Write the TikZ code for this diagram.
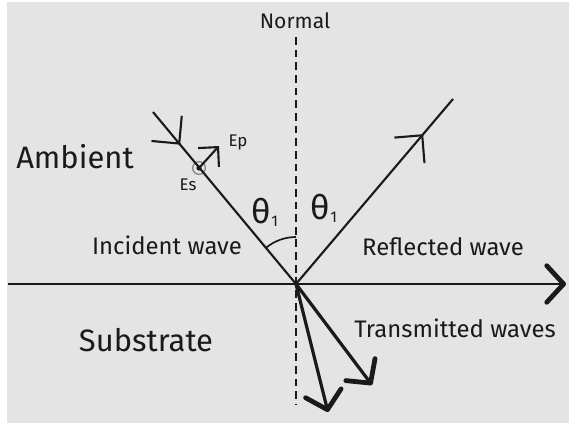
\documentclass[tikz,border=0pt]{standalone}
\usepackage{fontspec}
\setmainfont{Fira Sans}
\usetikzlibrary{arrows.meta,decorations.markings}
\definecolor{bggray}{HTML}{E4E4E4}
\definecolor{ink}{HTML}{1A1A1A}

\begin{document}
\begin{tikzpicture}[
    x=0.025cm, y=0.025cm,
    line width=1.5pt,
    draw=ink,
    every node/.style={inner sep=0pt, text=ink},
    midbarb/.style={postaction={decorate}, decoration={markings,
        mark=at position #1 with {\arrow{Straight Barb[length=14pt,width=28pt]}}}},
    thickbarb/.style={-{Straight Barb[length=12pt,width=26pt,line width=3.4pt,round]}},
    bigtext/.style={font=\fontsize{22}{26}\selectfont},
    wavetext/.style={font=\fontsize{17}{20}\selectfont},
    thetatext/.style={font=\fontsize{24}{28}\selectfont}
]
  % background
  \fill[white] (0,0) rectangle (569,423);
  \fill[bggray] (7,0) rectangle (569,421);
  \useasboundingbox (0,0) rectangle (569,423);

  % points
  \coordinate (O)  at (296,139);
  \coordinate (N1) at (296,386);
  \coordinate (N2) at (296,18);
  \coordinate (L)  at (8,139);
  \coordinate (R)  at (566,139);
  \coordinate (I)  at (153,311);
  \coordinate (F)  at (453,324);
  \coordinate (T1) at (328,11);
  \coordinate (T2) at (372,38);
  \coordinate (P)  at (219,277);

  % nodes
  \node (normal) at (295,402) {\fontsize{15}{18}\selectfont Normal};
  \node[bigtext] (ambient) at (75,266) {Ambient};
  \node[bigtext] (substrate) at (146,83) {Substrate};
  \node[wavetext] (incident) at (167,178) {Incident wave};
  \node[wavetext] (reflected) at (443,176) {Reflected wave};
  \node[wavetext] (transmitted) at (455,95) {Transmitted waves};
  \node[thetatext] (thetaL) at (265,211) {θ\raisebox{-2pt}{\fontsize{11}{12}\selectfont 1}};
  \node[thetatext] (thetaR) at (324,215) {θ\raisebox{-2pt}{\fontsize{11}{12}\selectfont 1}};
  \node[circle, draw=ink!55, line width=0.9pt, minimum size=9pt] (Es) at (199,255) {};
  \node (EsLabel) at (188,238) {\fontsize{12}{14}\selectfont Es};
  \node (EpLabel) at (238,281) {\fontsize{12}{14}\selectfont Ep};

  % edges
  \draw[dash pattern=on 5.5pt off 3.5pt] (N1) -- (N2);
  \draw[thickbarb] (L) -- (R);
  \draw[midbarb=0.19] (I) -- (O);
  \draw[midbarb=0.81] (O) -- (F);
  \draw[line width=2.3pt, thickbarb] (O) -- (T1);
  \draw[line width=2.3pt, thickbarb] (O) -- (T2);
  \fill[ink] (Es.center) circle (2.6);
  \draw[-{Straight Barb[length=10pt,width=20pt]}] (Es.center) -- (P);
  \draw[line width=1.2pt] ([shift={(130:47)}]O) arc (130:90:47);
\end{tikzpicture}
\end{document}
